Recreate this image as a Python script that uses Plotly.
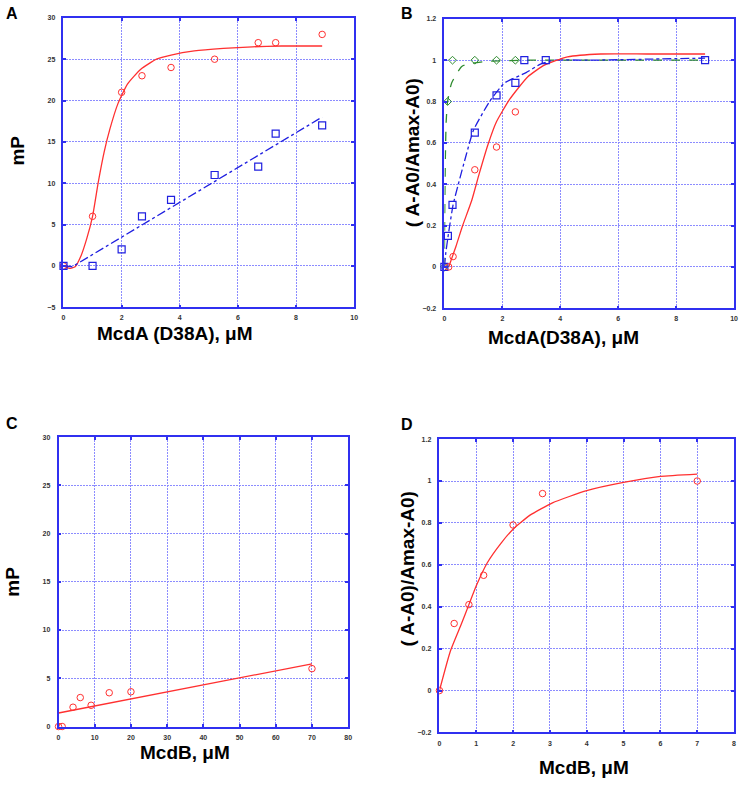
import plotly.graph_objects as go

W, H = 743, 786

# ---------------- Panel A data ----------------
a_x_red = [0, 1, 2, 2.7, 3.7, 5.2, 6.7, 7.3, 8.9]
a_y_red = [0, 6, 21, 23, 24, 25, 27, 27, 28]
a_fit_red_x = [0, 0.2, 0.4, 0.6, 0.8, 1.0, 1.2, 1.4, 1.6, 1.87, 2.2, 2.66, 3.2, 3.7, 4.5, 5.5, 6.5, 7.5, 8.9]
a_fit_red_y = [0, -0.3, -0.1, 1.2, 3.3, 6, 10.2, 13.8, 16.6, 19.6, 22.0, 23.8, 25.0, 25.5, 26.0, 26.3, 26.5, 26.6, 26.6]
a_x_blue = [0, 1, 2, 2.7, 3.7, 5.2, 6.7, 7.3, 8.9]
a_y_blue = [0, 0, 2, 6, 8, 11, 12, 16, 17]
a_fit_blue_x = [0, 0.3, 8.9]
a_fit_blue_y = [0, -0.1, 18]

# ---------------- Panel B data ----------------
b_x_red = [0.15, 0.3, 1.05, 1.8, 2.45]
b_y_red = [0, 0.05, 0.47, 0.58, 0.75]
b_fit_red_x = [0.15, 0.4, 0.63, 0.94, 1.2, 1.5, 1.79, 2.25, 2.88, 3.45, 4.25, 5.4, 7, 9]
b_fit_red_y = [0, 0.1, 0.2, 0.32, 0.45, 0.59, 0.7, 0.81, 0.92, 0.976, 1.016, 1.03, 1.03, 1.03]
b_x_blue = [0, 0.12, 0.28, 1.05, 1.8, 2.45, 2.76, 3.5, 9.0]
b_y_blue = [0, 0.15, 0.3, 0.65, 0.83, 0.89, 1.0, 1.0, 1.0]
b_fit_blue_x = [0, 0.05, 0.15, 0.3, 0.48, 0.75, 1.0, 1.56, 2.08, 2.82, 3.3, 3.8, 5, 7, 9]
b_fit_blue_y = [0, 0.07, 0.17, 0.3, 0.4, 0.54, 0.66, 0.8, 0.89, 0.94, 0.98, 1.0, 1.0, 1.005, 1.01]
b_x_green = [0, 0.11, 0.28, 1.05, 1.8, 2.45]
b_y_green = [0, 0.8, 1.0, 1.0, 1.0, 1.0]
b_fit_green_x = [0, 0.01, 0.03, 0.06, 0.11, 0.25, 0.6, 0.94, 1.5, 3, 9]
b_fit_green_y = [0, 0.25, 0.5, 0.7, 0.8, 0.89, 0.97, 0.985, 0.995, 1.0, 1.0]

# ---------------- Panel C data ----------------
c_x_red = [0, 1, 4, 6, 9, 14, 20, 70]
c_y_red = [0, 0, 2, 3, 2.2, 3.5, 3.6, 6]
c_fit_x = [0, 70]
c_fit_y = [1.4, 6.5]

# ---------------- Panel D data ----------------
d_x_red = [0, 0.4, 0.8, 1.2, 2, 2.8, 7]
d_y_red = [0, 0.32, 0.41, 0.55, 0.79, 0.94, 1.0]
d_fit_x = [0, 0.3, 0.6, 0.8, 1.0, 1.3, 1.68, 2.0, 2.46, 3.07, 4.0, 5.0, 6.0, 7.0]
d_fit_y = [0, 0.19, 0.32, 0.41, 0.5, 0.61, 0.705, 0.77, 0.837, 0.896, 0.954, 0.993, 1.022, 1.033]

RED = "#ff3030"
BLUE = "#2020e0"
GREEN = "#2e8b2e"
FRAME = "#3030f0"
GRID = "#8c8cff"
FONT = "Liberation Sans"

fig = go.Figure()


def circles(x, y, ax, color=RED):
    fig.add_trace(go.Scatter(x=x, y=y, mode="markers", xaxis=ax[0], yaxis=ax[1],
                             marker=dict(symbol="circle-open", size=6.5, color=color,
                                         line=dict(width=1, color=color)),
                             showlegend=False, cliponaxis=False))


def squares(x, y, ax):
    fig.add_trace(go.Scatter(x=x, y=y, mode="markers", xaxis=ax[0], yaxis=ax[1],
                             marker=dict(symbol="square-open", size=7, color=BLUE,
                                         line=dict(width=1.2, color=BLUE)),
                             showlegend=False, cliponaxis=False))


def diamonds(x, y, ax):
    fig.add_trace(go.Scatter(x=x, y=y, mode="markers", xaxis=ax[0], yaxis=ax[1],
                             marker=dict(symbol="diamond-open", size=6, color=GREEN,
                                         line=dict(width=1, color=GREEN)),
                             showlegend=False, cliponaxis=False))


def curve(x, y, ax, color, dash="solid", shape="spline"):
    fig.add_trace(go.Scatter(x=x, y=y, mode="lines", xaxis=ax[0], yaxis=ax[1],
                             line=dict(color=color, width=1.3, dash=dash, shape=shape, smoothing=0.5),
                             showlegend=False, hoverinfo="skip"))


A = ("x", "y")
B = ("x2", "y2")
C = ("x3", "y3")
D = ("x4", "y4")

# Panel A
curve(a_fit_red_x, a_fit_red_y, A, RED)
curve(a_fit_blue_x, a_fit_blue_y, A, BLUE, dash="dashdot", shape="linear")
circles(a_x_red, a_y_red, A)
squares(a_x_blue, a_y_blue, A)

# Panel B
curve(b_fit_green_x, b_fit_green_y, B, GREEN, dash="dash")
curve(b_fit_blue_x, b_fit_blue_y, B, BLUE, dash="dashdot")
curve(b_fit_red_x, b_fit_red_y, B, RED)
diamonds(b_x_green, b_y_green, B)
squares(b_x_blue, b_y_blue, B)
circles(b_x_red, b_y_red, B)

# Panel C
curve(c_fit_x, c_fit_y, C, RED, shape="linear")
circles(c_x_red, c_y_red, C)

# Panel D
curve(d_fit_x, d_fit_y, D, RED)
circles(d_x_red, d_y_red, D)


def px_x(p):
    return p / W


def px_y(p):
    return 1 - p / H


def axis(domain, rng, dtick, anchor, standoff):
    return dict(domain=domain, range=rng, dtick=dtick, tick0=0, anchor=anchor,
                showline=True, linecolor=FRAME, linewidth=1.5, mirror="allticks",
                showgrid=True, gridcolor=GRID, griddash="2px,1px", gridwidth=1,
                zeroline=False, ticks="inside", ticklen=3, tickcolor=FRAME, tickwidth=1.5,
                tickfont=dict(family=FONT, size=7, color="#333333", weight="bold"),
                ticklabeloverflow="allow", ticklabelstandoff=standoff,
                fixedrange=True)


layout = dict(width=W, height=H, autosize=False, margin=dict(l=0, r=0, t=0, b=0),
              paper_bgcolor="white", plot_bgcolor="white", showlegend=False)

layout["xaxis"] = axis([px_x(62), px_x(355)], [0, 10], 2, "y", 3)
layout["yaxis"] = axis([px_y(306), px_y(14)], [-5, 30], 5, "x", 5)
layout["xaxis2"] = axis([px_x(446), px_x(738)], [0, 10], 2, "y2", 3)
layout["yaxis2"] = axis([px_y(307), px_y(15)], [-0.2, 1.2], 0.2, "x2", 5)
layout["xaxis3"] = axis([px_x(57), px_x(349)], [0, 80], 10, "y3", 3)
layout["yaxis3"] = axis([px_y(729), px_y(437)], [0, 30], 5, "x3", 5)
layout["xaxis4"] = axis([px_x(441), px_x(738)], [0, 8], 1, "y4", 3)
layout["yaxis4"] = axis([px_y(735), px_y(439)], [-0.2, 1.2], 0.2, "x4", 5)

fig.update_layout(**layout)


def label(text, x, y, size=19, angle=0):
    fig.add_annotation(text=text, x=px_x(x), y=px_y(y), xref="paper", yref="paper",
                       showarrow=False, textangle=angle, xanchor="center", yanchor="middle",
                       font=dict(family=FONT, size=size, color="black", weight="bold"))


# Panel letters
label("A", 10, 10, size=16)
label("B", 408, 10, size=16)
label("C", 10, 423, size=16)
label("D", 408, 424, size=16)

# x titles
label("McdA (D38A), μM", 174, 332)
label("McdA(D38A), μM", 566, 337)
label("McdB, μM", 184, 755)
label("McdB, μM", 587, 770)

# y titles
label("mP", 16, 148, angle=-90)
label("( A-A0/Amax-A0)", 414, 150, angle=-90)
label("mP", 11, 583, angle=-90)
label("( A-A0)/Amax-A0)", 409, 570, angle=-90)

fig.write_html("out.html", config={"displayModeBar": False},
               post_script="document.body.style.margin='0px';document.body.style.overflow='hidden';")
